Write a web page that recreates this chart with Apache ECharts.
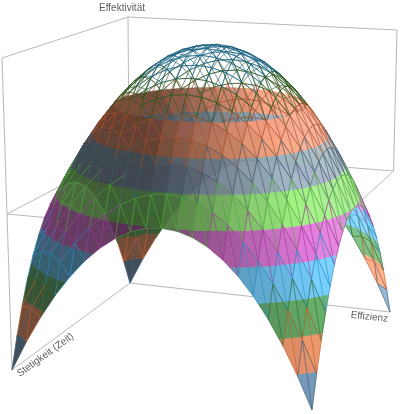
<!DOCTYPE html>
<html>
<head>
<meta charset="utf-8">
<script src="https://cdn.jsdelivr.net/npm/echarts@6/dist/echarts.min.js"></script>
<style>html,body{margin:0;padding:0;background:#fff}#c{width:402px;height:414px}</style>
</head>
<body>
<div id="c"></div>
<script>
// ── Data ────────────────────────────────────────────────────────────
const xValues = [-1,-0.9,-0.8,-0.7,-0.6,-0.5,-0.4,-0.3,-0.2,-0.1,0,0.1,0.2,0.3,0.4,0.5,0.6,0.7,0.8,0.9,1];
const yValues = [-1,-0.9,-0.8,-0.7,-0.6,-0.5,-0.4,-0.3,-0.2,-0.1,0,0.1,0.2,0.3,0.4,0.5,0.6,0.7,0.8,0.9,1];
const zValues = [
  [-1,-.81,-.64,-.49,-.36,-.25,-.16,-.09,-.04,-.01,0,-.01,-.04,-.09,-.16,-.25,-.36,-.49,-.64,-.81,-1],
  [-.81,-.62,-.45,-.3,-.17,-.06,.03,.1,.15,.18,.19,.18,.15,.1,.03,-.06,-.17,-.3,-.45,-.62,-.81],
  [-.64,-.45,-.28,-.13,0,.11,.2,.27,.32,.35,.36,.35,.32,.27,.2,.11,0,-.13,-.28,-.45,-.64],
  [-.49,-.3,-.13,.02,.15,.26,.35,.42,.47,.5,.51,.5,.47,.42,.35,.26,.15,.02,-.13,-.3,-.49],
  [-.36,-.17,0,.15,.28,.39,.48,.55,.6,.63,.64,.63,.6,.55,.48,.39,.28,.15,0,-.17,-.36],
  [-.25,-.06,.11,.26,.39,.5,.59,.66,.71,.74,.75,.74,.71,.66,.59,.5,.39,.26,.11,-.06,-.25],
  [-.16,.03,.2,.35,.48,.59,.68,.75,.8,.83,.84,.83,.8,.75,.68,.59,.48,.35,.2,.03,-.16],
  [-.09,.1,.27,.42,.55,.66,.75,.82,.87,.9,.91,.9,.87,.82,.75,.66,.55,.42,.27,.1,-.09],
  [-.04,.15,.32,.47,.6,.71,.8,.87,.92,.95,.96,.95,.92,.87,.8,.71,.6,.47,.32,.15,-.04],
  [-.01,.18,.35,.5,.63,.74,.83,.9,.95,.98,.99,.98,.95,.9,.83,.74,.63,.5,.35,.18,-.01],
  [0,.19,.36,.51,.64,.75,.84,.91,.96,.99,1,.99,.96,.91,.84,.75,.64,.51,.36,.19,0],
  [-.01,.18,.35,.5,.63,.74,.83,.9,.95,.98,.99,.98,.95,.9,.83,.74,.63,.5,.35,.18,-.01],
  [-.04,.15,.32,.47,.6,.71,.8,.87,.92,.95,.96,.95,.92,.87,.8,.71,.6,.47,.32,.15,-.04],
  [-.09,.1,.27,.42,.55,.66,.75,.82,.87,.9,.91,.9,.87,.82,.75,.66,.55,.42,.27,.1,-.09],
  [-.16,.03,.2,.35,.48,.59,.68,.75,.8,.83,.84,.83,.8,.75,.68,.59,.48,.35,.2,.03,-.16],
  [-.25,-.06,.11,.26,.39,.5,.59,.66,.71,.74,.75,.74,.71,.66,.59,.5,.39,.26,.11,-.06,-.25],
  [-.36,-.17,0,.15,.28,.39,.48,.55,.6,.63,.64,.63,.6,.55,.48,.39,.28,.15,0,-.17,-.36],
  [-.49,-.3,-.13,.02,.15,.26,.35,.42,.47,.5,.51,.5,.47,.42,.35,.26,.15,.02,-.13,-.3,-.49],
  [-.64,-.45,-.28,-.13,0,.11,.2,.27,.32,.35,.36,.35,.32,.27,.2,.11,0,-.13,-.28,-.45,-.64],
  [-.81,-.62,-.45,-.3,-.17,-.06,.03,.1,.15,.18,.19,.18,.15,.1,.03,-.06,-.17,-.3,-.45,-.62,-.81],
  [-1,-.81,-.64,-.49,-.36,-.25,-.16,-.09,-.04,-.01,0,-.01,-.04,-.09,-.16,-.25,-.36,-.49,-.64,-.81,-1]
];
const axisNames = ['Effizienz', 'Stetigkeit (Zeit)', 'Effektivität'];
// colour bands over z, bottom to top; null fill = wireframe only
const bandEdges = [-1,-0.8,-0.6,-0.4,-0.2,0,0.2,0.4,0.6,0.8,1];
const bandFill  = ['#7aa4c8','#ff9a6a','#5fae62','#6cccff','#e070d8','#98f078','#98aec0','#ff9e7e',null,null];
const bandLine  = ['#3d5f7c','#c8602f','#2f6a33','#2a8fc4','#9c3a96','#4ea53a','#3f5567','#a4502f','#2c5a1f','#1d6585'];

// ── View: projected box corners (bottom / top) ──────────────────────
// key: u (Effizienz) then v (Stetigkeit)
const boxBot = { '00':[12,370], '01':[130,283], '11':[390,312], '10':[312,410] };
const boxTop = { '00':[2,58],   '01':[128,17],  '11':[397,30],  '10':[320,75] };

function lerp(a, b, t) { return [a[0] + (b[0]-a[0])*t, a[1] + (b[1]-a[1])*t]; }
function project(x, y, z) {
  const u = (x + 1) / 2, vv = (y + 1) / 2, w = (z + 1) / 2;
  const b = lerp(lerp(boxBot['00'], boxBot['01'], vv), lerp(boxBot['10'], boxBot['11'], vv), u);
  const t = lerp(lerp(boxTop['00'], boxTop['01'], vv), lerp(boxTop['10'], boxTop['11'], vv), u);
  return lerp(b, t, w);
}
function bandOf(z) {
  for (let k = 0; k < bandEdges.length - 1; k++) if (z < bandEdges[k+1]) return k;
  return bandEdges.length - 2;
}
function shade(hex, f) {
  const n = parseInt(hex.slice(1), 16);
  const ch = [(n >> 16) & 255, (n >> 8) & 255, n & 255].map(c => {
    const v = f <= 1 ? c * f : c + (255 - c) * (f - 1);
    return Math.max(0, Math.min(255, Math.round(v)));
  });
  return 'rgb(' + ch.join(',') + ')';
}
// clip polygon of [x,y,z] points to lo <= z <= hi
function clipZ(poly, lo, hi) {
  const clip = (pts, keep, edge) => {
    const out = [];
    for (let n = 0; n < pts.length; n++) {
      const a = pts[n], b = pts[(n + 1) % pts.length];
      const ia = keep(a[2]), ib = keep(b[2]);
      if (ia) out.push(a);
      if (ia !== ib) {
        const t = (edge - a[2]) / (b[2] - a[2]);
        out.push([a[0] + (b[0]-a[0])*t, a[1] + (b[1]-a[1])*t, edge]);
      }
    }
    return out;
  };
  let p = clip(poly, z => z >= lo, lo);
  if (p.length < 3) return p;
  return clip(p, z => z <= hi, hi);
}

// quads sorted back to front (viewer near x=+1, y=-1)
const N = xValues.length;
const quads = [];
for (let i = 0; i < N - 1; i++) {
  for (let j = 0; j < N - 1; j++) {
    const cx = (xValues[i] + xValues[i+1]) / 2, cy = (yValues[j] + yValues[j+1]) / 2;
    quads.push([i, j, cx - cy]);
  }
}
quads.sort((a, b) => a[2] - b[2]);

const light = [0.75, 0.25, 0.6];
function renderQuad(params, api) {
  const q = quads[params.dataIndex];
  const i = q[0], j = q[1];
  const idx = [[i,j],[i+1,j],[i+1,j+1],[i,j+1]];
  const p3 = idx.map(([a, b]) => [xValues[a], yValues[b], zValues[b][a]]);
  const zs = p3.map(p => p[2]);
  const zc = (zs[0] + zs[1] + zs[2] + zs[3]) / 4;
  const dzdx = ((zs[1] + zs[2]) - (zs[0] + zs[3])) / 2 / (xValues[i+1] - xValues[i]);
  const dzdy = ((zs[2] + zs[3]) - (zs[0] + zs[1])) / 2 / (yValues[j+1] - yValues[j]);
  const nl = Math.hypot(dzdx, dzdy, 1);
  const lam = (-dzdx * light[0] - dzdy * light[1] + light[2]) / nl;
  const f = 0.4 + 0.9 * Math.max(0, lam);
  const toScreen = pts => pts.map(p => api.coord(project(p[0], p[1], p[2])));
  const children = [];
  for (let k = 0; k < bandFill.length; k++) {
    if (!bandFill[k]) continue;
    const piece = clipZ(p3, bandEdges[k], bandEdges[k+1]);
    if (piece.length < 3) continue;
    const col = shade(bandFill[k], f);
    children.push({ type: 'polygon', shape: { points: toScreen(piece) },
      style: { fill: col, stroke: col, lineWidth: 0.4, opacity: 0.93 } });
  }
  const pts = toScreen(p3);
  const k = bandOf(zc);
  children.push({ type: 'polyline', shape: { points: [pts[3], pts[0], pts[1], pts[2], pts[3], pts[1]] },
    style: { fill: 'none', stroke: bandLine[k], lineWidth: 0.7, opacity: 0.9 } });
  return { type: 'group', children: children };
}

function renderBox(params, api) {
  const P = (x, y, z) => api.coord(project(x, y, z));
  const segs = [
    [[-1,-1,-1],[-1,-1,1]], [[-1,1,-1],[-1,1,1]], [[1,1,0],[1,1,1]],
    [[-1,-1,1],[-1,1,1]], [[-1,1,1],[1,1,1]],
    [[-1,-1,-1],[-1,1,-1]], [[-1,1,-1],[1,1,-1]],
    [[-1,-1,0],[1,-1,0]], [[1,-1,0],[1,1,0]], [[-1,-1,0],[-1,1,0]], [[-1,1,0],[1,1,0]]
  ];
  return {
    type: 'group',
    children: segs.map(s => {
      const a = P(...s[0]), b = P(...s[1]);
      return { type: 'line', shape: { x1: a[0], y1: a[1], x2: b[0], y2: b[1] },
               style: { stroke: '#b8b8b8', lineWidth: 1 } };
    })
  };
}

const chart = echarts.init(document.getElementById('c'), null, { renderer: 'canvas' });
const pE = project(1, 0.55, -1.02), pS = project(-0.55, -1, -1), pZ = project(-1, 1, 1);
chart.setOption({
  animation: false,
  grid: { left: 0, right: 0, top: 0, bottom: 0 },
  xAxis: { type: 'value', min: 0, max: 402, show: false },
  yAxis: { type: 'value', min: 0, max: 414, inverse: true, show: false },
  series: [
    { type: 'custom', renderItem: renderBox, data: [[0]], silent: true, z: 1 },
    { type: 'custom', renderItem: renderQuad, data: quads.map((q, k) => [k]), silent: true, z: 2,
      progressive: 0, encode: { x: -1, y: -1 } },
    { type: 'scatter', symbolSize: 0, silent: true, z: 3,
      data: [
        { value: [pZ[0] - 6, pZ[1] - 9], label: { formatter: axisNames[2], rotate: 0 } },
        { value: [pE[0] - 3, pE[1] - 20], label: { formatter: axisNames[0], rotate: -6 } },
        { value: [pS[0] - 34, pS[1] - 24], label: { formatter: axisNames[1], rotate: 36 } }
      ],
      label: { show: true, position: 'inside', color: '#333', fontSize: 10,
               fontFamily: 'Arial, Liberation Sans, sans-serif' } }
  ]
});
</script>
</body>
</html>
